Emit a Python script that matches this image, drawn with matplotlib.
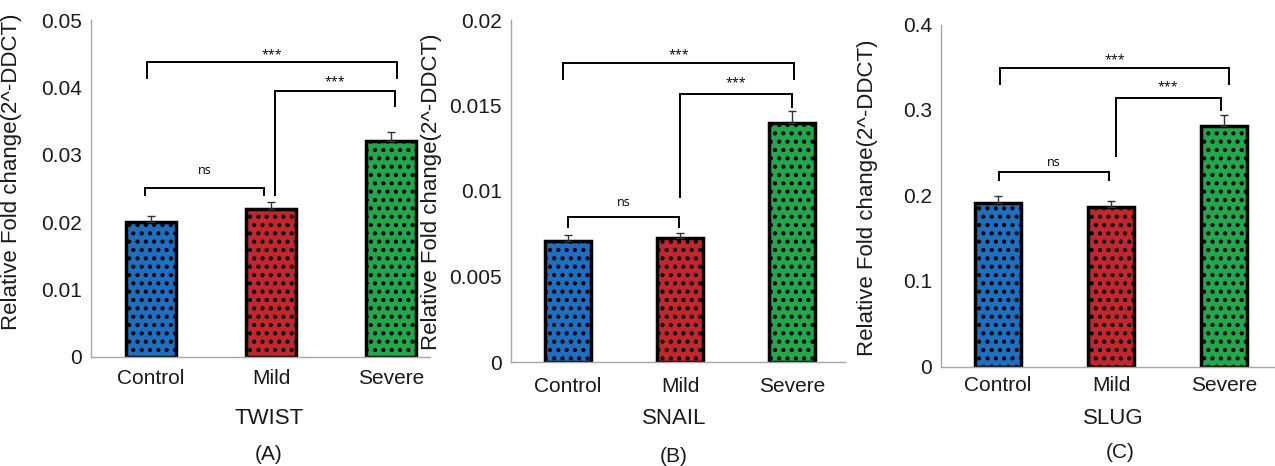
import matplotlib
matplotlib.use("Agg")
import matplotlib.pyplot as plt

plt.rcParams['font.family'] = ['Liberation Sans', 'DejaVu Sans']
plt.rcParams['hatch.linewidth'] = 1.8

# data
groups = ['Control', 'Mild', 'Severe']
genes = ['TWIST', 'SNAIL', 'SLUG']
panel_tags = ['(A)', '(B)', '(C)']

twist_mean = [0.0200, 0.0220, 0.0321]
twist_err = [0.0009, 0.0010, 0.0013]
snail_mean = [0.0071, 0.00725, 0.0140]
snail_err = [0.0003, 0.0003, 0.0007]
slug_mean = [0.191, 0.1865, 0.281]
slug_err = [0.008, 0.0075, 0.013]

y_max = [0.05, 0.02, 0.4]
y_step = [0.01, 0.005, 0.1]

# brackets: x_left, x_right, y_top, y_left_end, y_right_end, label, label_y
twist_sig = [
    (-0.05, 0.94, 0.0251, 0.0240, 0.0240, 'ns', 0.0277),
    (-0.03, 2.05, 0.0438, 0.0414, 0.0414, '***', 0.0448),
    (1.03, 2.03, 0.0395, 0.0240, 0.0372, '***', 0.0408),
]
snail_sig = [
    (0.00, 0.99, 0.00848, 0.00789, 0.00789, 'ns', 0.00935),
    (-0.045, 2.02, 0.01749, 0.01655, 0.01655, '***', 0.01795),
    (1.00, 2.00, 0.01567, 0.00965, 0.01491, '***', 0.01632),
]
slug_sig = [
    (0.01, 0.98, 0.2275, 0.218, 0.218, 'ns', 0.239),
    (0.02, 2.04, 0.349, 0.330, 0.330, '***', 0.3585),
    (1.04, 1.97, 0.314, 0.246, 0.300, '***', 0.327),
]

means = [twist_mean, snail_mean, slug_mean]
errs = [twist_err, snail_err, slug_err]
sigs = [twist_sig, snail_sig, slug_sig]

colors = ['#1f6fc1', '#c1272d', '#22a84b']

# layout in pixels (fig 1275 x 466)
W, H = 1275, 466
ax_px = [  # left, right, y of zero, y of top
    (91, 430, 357, 20),
    (511, 845, 362, 20),
    (941, 1275, 366.5, 24.5),
]
centers_px = [(151, 120), (568, 112), (998, 113)]
ylabel_pos = [(-0.2035, 0.549), (-0.2066, 0.497), (-0.19, 0.494)]
xlab_px = [(269, 418), (674, 418), (1113, 418)]
tag_px = [(269, 455), (674, 457), (1120, 453)]
xtick_pad = [9, 11, 7]

fig = plt.figure(figsize=(W / 100, H / 100), dpi=100)

for i in range(3):
    l, r, y0, yt = ax_px[i]
    ax = fig.add_axes([l / W, (H - y0) / H, (r - l) / W, (y0 - yt) / H])
    c0, unit = centers_px[i]
    xs = list(range(len(groups)))
    ax.bar(xs, means[i], width=0.41, color=colors, edgecolor='black',
           linewidth=2.5, hatch='..', zorder=2)
    ax.errorbar(xs, means[i], yerr=[[0] * 3, errs[i]], fmt='none',
                ecolor='#333333', elinewidth=1, capsize=3, capthick=1, zorder=3)
    for x1, x2, yb, yl, yr, lab, ly in sigs[i]:
        ax.plot([x1, x1, x2, x2], [yl, yb, yb, yr], color='black', lw=1.4,
                solid_joinstyle='miter', zorder=4)
        ax.text((x1 + x2) / 2, ly, lab, ha='center', va='center',
                fontsize=9, family=['Open Sans', 'DejaVu Sans'])
    ax.set_xlim((l - c0) / unit, (r - c0) / unit)
    ax.set_ylim(0, y_max[i])
    n = int(round(y_max[i] / y_step[i]))
    ticks = [k * y_step[i] for k in range(n + 1)]
    ax.set_yticks(ticks)
    ax.set_yticklabels(['0'] + ['{:g}'.format(round(t, 4)) for t in ticks[1:]])
    ax.set_xticks(xs)
    ax.set_xticklabels(groups)
    ax.tick_params(axis='y', length=0, pad=6.5, labelsize=15, labelcolor='#1a1a1a')
    ax.tick_params(axis='x', length=0, pad=xtick_pad[i], labelsize=15, labelcolor='#1a1a1a')
    for s in ['top', 'right']:
        ax.spines[s].set_visible(False)
    for s in ['left', 'bottom']:
        ax.spines[s].set_color('#a6a6a6')
        ax.spines[s].set_linewidth(1.0)
    ax.set_ylabel('Relative Fold change(2^-DDCT)', fontsize=16, color='#1a1a1a')
    ax.yaxis.set_label_coords(*ylabel_pos[i])
    ax.patch.set_alpha(0)

    fig.text(xlab_px[i][0] / W, 1 - xlab_px[i][1] / H, genes[i], ha='center',
             va='center', fontsize=16, color='#1a1a1a')
    fig.text(tag_px[i][0] / W, 1 - tag_px[i][1] / H, panel_tags[i], ha='center',
             va='center', fontsize=15, color='#1a1a1a')

fig.savefig('out.png', dpi=100)
